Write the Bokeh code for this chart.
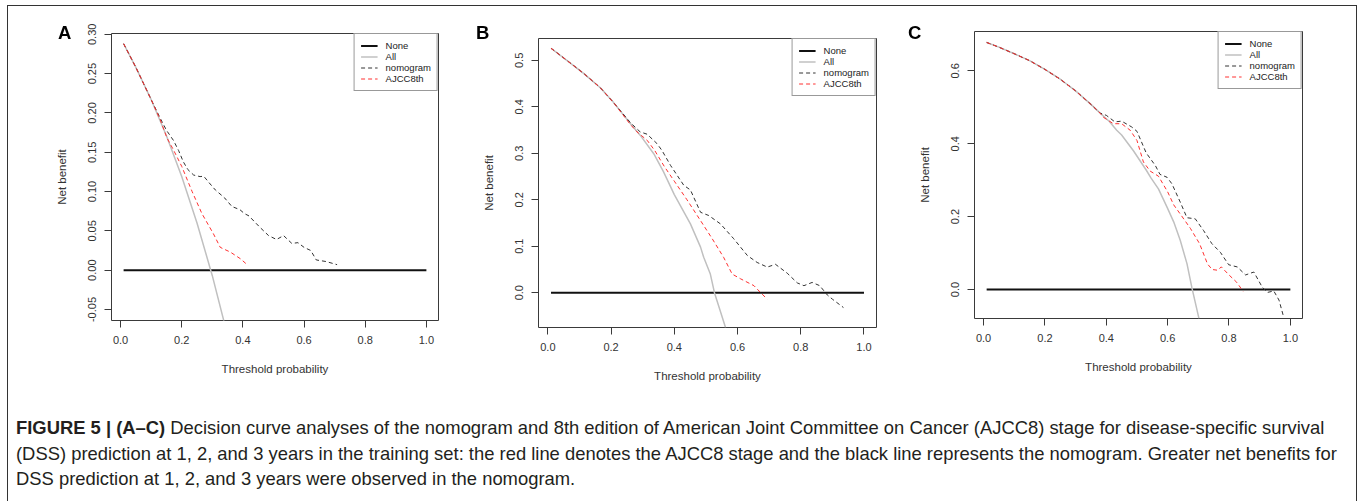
from bokeh.plotting import figure
from bokeh.models import Range1d, FixedTicker, PrintfTickFormatter, Div, Spacer
from bokeh.layouts import row, column
from bokeh.embed import file_html
from bokeh.resources import INLINE

# ---------------- data ----------------
X_TICKS = [0.0, 0.2, 0.4, 0.6, 0.8, 1.0]
NONE_T = [0.01, 1.0]
NONE_NB = [0.0, 0.0]

# Panel A (1 year)
A_all_t = [0.01, 0.05, 0.10, 0.15, 0.20, 0.25, 0.30, 0.34]
A_all_nb = [0.288, 0.258, 0.217, 0.171, 0.119, 0.060, -0.007, -0.068]
A_nomo_t = [0.01, 0.05, 0.10, 0.13, 0.15, 0.173, 0.19, 0.205, 0.22, 0.239, 0.26, 0.272,
            0.29, 0.31, 0.34, 0.364, 0.39, 0.405, 0.42, 0.437, 0.457, 0.484, 0.51, 0.533,
            0.56, 0.58, 0.60, 0.622, 0.64, 0.672, 0.708]
A_nomo_nb = [0.288, 0.258, 0.217, 0.193, 0.178, 0.165, 0.152, 0.138, 0.128, 0.121, 0.119, 0.1195,
             0.111, 0.102, 0.092, 0.081, 0.077, 0.072, 0.069, 0.062, 0.054, 0.044, 0.039, 0.044,
             0.034, 0.035, 0.029, 0.025, 0.013, 0.011, 0.007]
A_ajcc_t = [0.01, 0.05, 0.10, 0.13, 0.152, 0.173, 0.20, 0.234, 0.266, 0.304, 0.326, 0.359, 0.392, 0.417]
A_ajcc_nb = [0.288, 0.258, 0.217, 0.191, 0.168, 0.153, 0.132, 0.100, 0.072, 0.046, 0.029, 0.023, 0.0145, 0.006]

# Panel B (2 years)
B_all_t = [0.01, 0.06, 0.113, 0.166, 0.208, 0.261, 0.292, 0.335, 0.366, 0.40, 0.451, 0.483,
           0.493, 0.514, 0.527, 0.562]
B_all_nb = [0.526, 0.500, 0.472, 0.441, 0.409, 0.364, 0.339, 0.299, 0.260, 0.211, 0.148, 0.098,
            0.076, 0.040, 0.0, -0.075]
B_nomo_t = [0.01, 0.06, 0.113, 0.166, 0.208, 0.261, 0.292, 0.314, 0.345, 0.361, 0.388, 0.43,
            0.451, 0.483, 0.509, 0.546, 0.588, 0.631, 0.662, 0.694, 0.72, 0.757, 0.789, 0.81,
            0.836, 0.86, 0.884, 0.90, 0.935]
B_nomo_nb = [0.526, 0.500, 0.472, 0.441, 0.409, 0.366, 0.346, 0.341, 0.321, 0.306, 0.274, 0.231,
             0.221, 0.173, 0.166, 0.148, 0.116, 0.080, 0.065, 0.055, 0.061, 0.042, 0.021, 0.015,
             0.022, 0.015, -0.005, -0.014, -0.032]
B_ajcc_t = [0.01, 0.06, 0.113, 0.166, 0.208, 0.261, 0.282, 0.314, 0.338, 0.368, 0.40, 0.44,
            0.483, 0.52, 0.556, 0.583, 0.609, 0.652, 0.673, 0.694]
B_ajcc_nb = [0.526, 0.500, 0.472, 0.441, 0.409, 0.362, 0.346, 0.328, 0.306, 0.272, 0.240, 0.200,
             0.155, 0.116, 0.076, 0.040, 0.030, 0.015, 0.0, -0.014]

# Panel C (3 years)
C_all_t = [0.01, 0.05, 0.10, 0.15, 0.20, 0.25, 0.30, 0.35, 0.38, 0.41, 0.434, 0.45, 0.489,
           0.53, 0.545, 0.57, 0.598, 0.62, 0.641, 0.663, 0.679, 0.702]
C_all_nb = [0.678, 0.665, 0.647, 0.628, 0.604, 0.577, 0.545, 0.508, 0.484, 0.461, 0.437, 0.424,
            0.380, 0.328, 0.307, 0.276, 0.226, 0.185, 0.135, 0.071, 0.005, -0.079]
C_nomo_t = [0.01, 0.05, 0.10, 0.15, 0.20, 0.25, 0.30, 0.35, 0.38, 0.40, 0.428, 0.45, 0.483,
            0.50, 0.53, 0.56, 0.575, 0.598, 0.614, 0.641, 0.663, 0.69, 0.717, 0.744, 0.772,
            0.799, 0.827, 0.854, 0.881, 0.908, 0.925, 0.946, 0.963, 0.978]
C_nomo_nb = [0.678, 0.665, 0.647, 0.628, 0.604, 0.577, 0.545, 0.508, 0.484, 0.478, 0.460, 0.462,
             0.446, 0.434, 0.375, 0.340, 0.316, 0.308, 0.290, 0.240, 0.197, 0.194, 0.162, 0.126,
             0.102, 0.068, 0.062, 0.040, 0.048, 0.007, -0.008, -0.004, -0.029, -0.075]
C_ajcc_t = [0.01, 0.05, 0.10, 0.15, 0.20, 0.25, 0.30, 0.35, 0.38, 0.39, 0.423, 0.45, 0.478,
            0.50, 0.521, 0.543, 0.57, 0.60, 0.62, 0.643, 0.674, 0.704, 0.73, 0.745, 0.762,
            0.775, 0.80, 0.825, 0.846]
C_ajcc_nb = [0.678, 0.665, 0.647, 0.628, 0.604, 0.577, 0.545, 0.508, 0.484, 0.473, 0.455, 0.455,
             0.437, 0.409, 0.350, 0.325, 0.311, 0.268, 0.232, 0.205, 0.168, 0.126, 0.070, 0.055,
             0.053, 0.062, 0.040, 0.020, -0.005]

A_Y_TICKS = [-0.05, 0.0, 0.05, 0.10, 0.15, 0.20, 0.25, 0.30]
B_Y_TICKS = [0.0, 0.1, 0.2, 0.3, 0.4, 0.5]
C_Y_TICKS = [0.0, 0.2, 0.4, 0.6]

LEGEND_LABELS = ["None", "All", "nomogram", "AJCC8th"]
PANEL_LETTERS = ["A", "B", "C"]

CAPTION_LINES = [
    "<b>FIGURE 5 | (A\u2013C)</b> Decision curve analyses of the nomogram and 8th edition of "
    "American Joint Committee on Cancer (AJCC8) stage for disease-specific survival",
    "(DSS) prediction at 1, 2, and 3 years in the training set: the red line denotes the "
    "AJCC8 stage and the black line represents the nomogram. Greater net benefits for",
    "DSS prediction at 1, 2, and 3 years were observed in the nomogram.",
]

FONT = "Liberation Sans"
X_RANGE = (-0.0296, 1.0396)
TOP_BORDER = 23
BOTTOM_BORDER = 60


def make_panel(width, frame_h, left, right, y_range, y_ticks, y_fmt,
               all_t, all_nb, nomo_t, nomo_nb, ajcc_t, ajcc_nb):
    p = figure(width=width, height=TOP_BORDER + frame_h + BOTTOM_BORDER,
               output_backend="svg", toolbar_location=None,
               x_range=Range1d(*X_RANGE), y_range=Range1d(*y_range),
               min_border_left=left, min_border_right=right,
               min_border_top=TOP_BORDER, min_border_bottom=BOTTOM_BORDER)
    p.background_fill_color = "white"
    p.border_fill_color = "white"
    p.outline_line_color = "#3a3a3a"
    p.outline_line_width = 1
    p.grid.visible = False

    for ax in (p.xaxis[0], p.yaxis[0]):
        ax.axis_line_color = None
        ax.major_tick_in = 0
        ax.major_tick_out = 7
        ax.major_tick_line_color = "#3a3a3a"
        ax.minor_tick_line_color = None
        ax.major_label_text_font = FONT
        ax.major_label_text_font_size = "11px"
        ax.major_label_text_color = "#333333"
        ax.axis_label_text_font = FONT
        ax.axis_label_text_font_size = "11.5px"
        ax.axis_label_text_font_style = "normal"
        ax.axis_label_text_color = "#333333"

    p.xaxis.ticker = FixedTicker(ticks=X_TICKS)
    p.xaxis.formatter = PrintfTickFormatter(format="%.1f")
    p.xaxis.axis_label = "Threshold probability"
    p.xaxis.major_label_standoff = 8
    p.xaxis.axis_label_standoff = 16

    p.yaxis.ticker = FixedTicker(ticks=y_ticks)
    p.yaxis.formatter = PrintfTickFormatter(format=y_fmt)
    p.yaxis.major_label_orientation = "parallel"
    p.yaxis.major_label_standoff = 8
    p.yaxis.axis_label = "Net benefit"
    p.yaxis.axis_label_standoff = 18

    p.line(NONE_T, NONE_NB, line_color="#111111", line_width=2, legend_label=LEGEND_LABELS[0])
    p.line(all_t, all_nb, line_color="#c0c0c0", line_width=1.5, legend_label=LEGEND_LABELS[1])
    p.line(nomo_t, nomo_nb, line_color="#333333", line_width=1, line_dash="4 3",
           legend_label=LEGEND_LABELS[2])
    p.line(ajcc_t, ajcc_nb, line_color="#ff3030", line_width=1, line_dash="4 3",
           legend_label=LEGEND_LABELS[3])

    lg = p.legend[0]
    lg.location = "top_right"
    lg.margin = 0
    lg.padding = 6
    lg.spacing = 0
    lg.label_text_font = FONT
    lg.label_text_font_size = "9.5px"
    lg.label_text_color = "#222222"
    lg.glyph_width = 17
    lg.glyph_height = 11
    lg.label_height = 11
    lg.label_standoff = 8
    lg.border_line_color = "#333333"
    lg.border_line_width = 1
    lg.background_fill_alpha = 1
    return p


pA = make_panel(470, 287, 111, 32, (-0.064, 0.301), A_Y_TICKS, "%.2f",
                A_all_t, A_all_nb, A_nomo_t, A_nomo_nb, A_ajcc_t, A_ajcc_nb)
pB = make_panel(435, 289, 68, 29, (-0.075, 0.547), B_Y_TICKS, "%.1f",
                B_all_t, B_all_nb, B_nomo_t, B_nomo_nb, B_ajcc_t, B_ajcc_nb)
pC = make_panel(452, 287, 69, 55, (-0.0795, 0.708), C_Y_TICKS, "%.1f",
                C_all_t, C_all_nb, C_nomo_t, C_nomo_nb, C_ajcc_t, C_ajcc_nb)

colA = column(Spacer(width=470, height=10), pA)
colB = column(Spacer(width=435, height=15), pB)
colC = column(Spacer(width=452, height=8), pC)

overlay = ('<div style="position:fixed; left:7px; top:5px; width:1350px; height:600px; '
           'box-sizing:border-box; border:1.5px solid #333; border-bottom:none; '
           'pointer-events:none;"></div>')
letter_style = ("position:fixed; top:24px; font-family:'Liberation Sans', Arial, sans-serif; "
                "font-weight:bold; font-size:18.5px; line-height:18.5px; color:#000;")
for lx, letter in zip([58, 476, 908], PANEL_LETTERS):
    overlay += '<div style="%s left:%dpx;">%s</div>' % (letter_style, lx, letter)

caption_html = ('<div style="font-family:\'Liberation Sans\', Arial, sans-serif; font-size:18.4px; '
                'line-height:25.5px; color:#231f20; white-space:nowrap; padding:28px 0 0 16px;">'
                + "<br>".join(CAPTION_LINES) + '</div>')
caption = Div(text=overlay + caption_html, width=1357, height=106, margin=0)

layout = column(row(colA, colB, colC), caption)
open("out.html", "w").write(file_html(layout, INLINE))
